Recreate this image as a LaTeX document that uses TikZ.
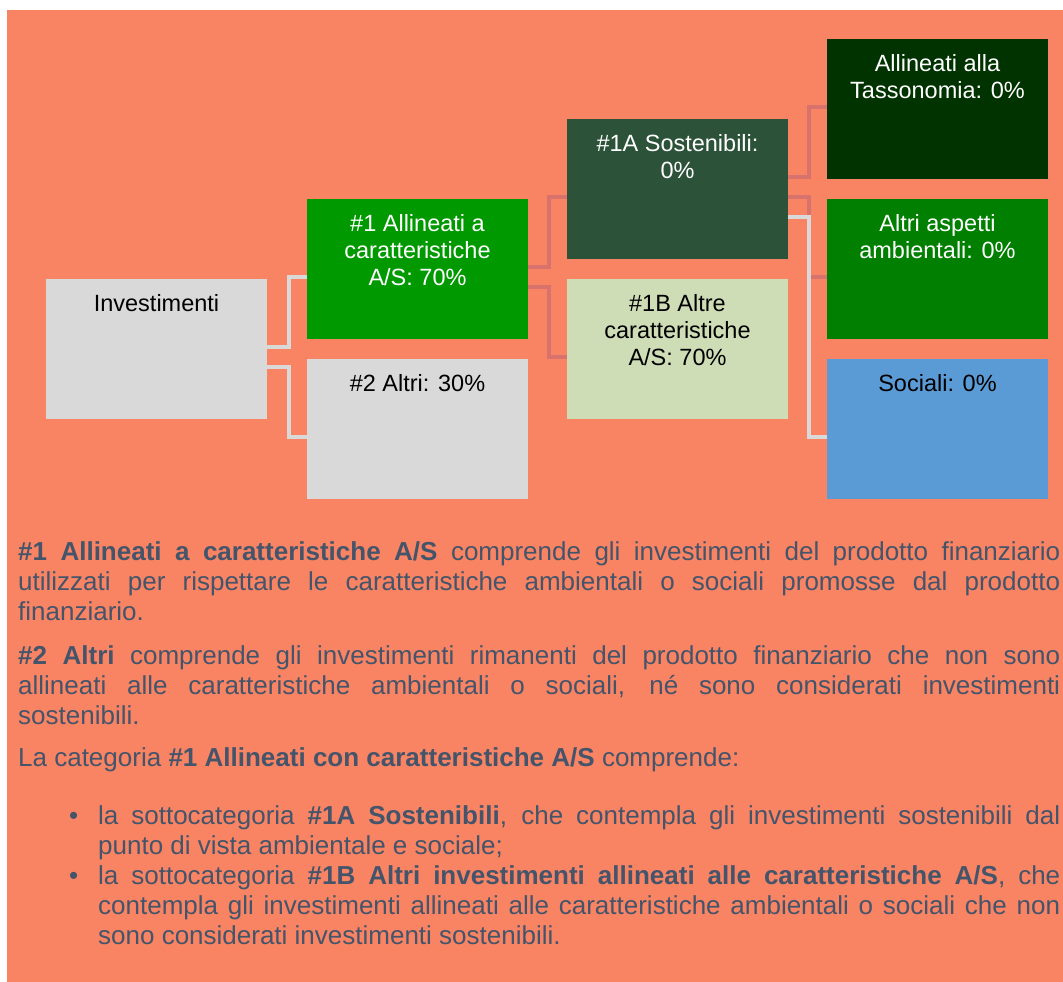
\documentclass[tikz,border=0pt]{standalone}
\usepackage{fontspec}
\setmainfont{Liberation Sans}
\usepackage{xcolor}
\usetikzlibrary{arrows,shapes}

\definecolor{salmon}{HTML}{F88464}
\definecolor{boxgray}{HTML}{D9D9D9}
\definecolor{greenA}{HTML}{009900}
\definecolor{greenS}{HTML}{2C5339}
\definecolor{greenB}{HTML}{CFDDB6}
\definecolor{greenT}{HTML}{003300}
\definecolor{greenE}{HTML}{007F00}
\definecolor{blueS}{HTML}{5B9BD5}
\definecolor{linkred}{HTML}{D7726C}
\definecolor{slate}{HTML}{44546A}

\newcommand{\boxtext}[1]{\parbox[c][140pt][t]{215pt}{\centering\rule{0pt}{32.5pt}#1}}
\newcommand{\parafont}{\fontsize{26}{30}\selectfont\tolerance=10000 \hyphenpenalty=10000 }
\newcommand{\paratext}[2]{\parbox[t]{#1}{\parafont #2}}
\newcommand{\bul}{\leavevmode\llap{\textbullet\hspace{20pt}}}

\tikzset{
  box/.style={rectangle, inner sep=0pt, minimum width=221pt, minimum height=140pt,
    font=\fontsize{23.5}{27}\selectfont},
  gline/.style={draw=boxgray, line width=4.5pt},
  rline/.style={draw=linkred, line width=4.5pt},
  para/.style={anchor=base west, inner sep=0pt, text=slate, font=\parafont}
}

\begin{document}
\begin{tikzpicture}[x=1pt,y=-1pt]
        \useasboundingbox (0,0) rectangle (1063,982);
        \fill[white] (0,0) rectangle (1063,982);
        \fill[salmon] (7,10) rectangle (1063,982);
        % boxes
        \node[box, fill=boxgray] (inv) at (156.5,349) {\boxtext{Investimenti}};
        \node[box, fill=greenA, text=white] (a1) at (417.5,269) {\boxtext{\#1 Allineati a\\ caratteristiche\\ A/S: 70\%}};
        \node[box, fill=boxgray] (a2) at (417.5,429) {\boxtext{\#2 Altri: 30\%}};
        \node[box, fill=greenS, text=white] (s1a) at (677.5,189) {\boxtext{\#1A Sostenibili:\\ 0\%}};
        \node[box, fill=greenB] (s1b) at (677.5,349) {\boxtext{\#1B Altre\\ caratteristiche\\ A/S: 70\%}};
        \node[box, fill=greenT, text=white] (tax) at (937.5,109) {\boxtext{Allineati alla\\ Tassonomia: 0\%}};
        \node[box, fill=greenE, text=white] (amb) at (937.5,269) {\boxtext{Altri aspetti\\ ambientali: 0\%}};
        \node[box, fill=blueS] (soc) at (937.5,429) {\boxtext{Sociali: 0\%}};
        % links
        \draw[gline] ([yshift=2pt]inv.east) -- ++(22,0) |- ([yshift=-8pt]a1.west);
        \draw[gline] ([yshift=-18pt]inv.east) -- ++(22,0) |- ([yshift=-8pt]a2.west);
        \draw[rline] ([yshift=2pt]a1.east) -- ++(21,0) |- ([yshift=-8pt]s1a.west);
        \draw[rline] ([yshift=-18pt]a1.east) -- ++(21,0) |- ([yshift=-8pt]s1b.west);
        \draw[rline] ([yshift=12pt]s1a.east) -- ++(21,0) |- ([yshift=2pt]tax.west);
        \draw[rline] ([yshift=-8pt]s1a.east) -- ++(21,0) |- ([yshift=-8pt]amb.west);
        \draw[gline] ([yshift=-28pt]s1a.east) -- ++(21,0) |- ([yshift=-8pt]soc.west);
        % text
        \node[para] (p1) at (18,560) {\paratext{1042pt}{\textbf{\#1 Allineati a caratteristiche A/S} comprende gli investimenti del prodotto finanziario\linebreak utilizzati per rispettare le caratteristiche ambientali o sociali promosse dal prodotto\linebreak finanziario.}};
        \node[para] (p2) at (18,664) {\paratext{1042pt}{\textbf{\#2 Altri} comprende gli investimenti rimanenti del prodotto finanziario che non sono\linebreak allineati alle caratteristiche ambientali o sociali, né sono considerati investimenti\linebreak sostenibili.}};
        \node[para] (p3) at (18,766) {\paratext{1042pt}{La categoria \textbf{\#1 Allineati con caratteristiche A/S} comprende:}};
        \node[para] (b1) at (98,824) {\paratext{962pt}{\bul la sottocategoria \textbf{\#1A Sostenibili}, che contempla gli investimenti sostenibili dal\linebreak punto di vista ambientale e sociale;}};
        \node[para] (b2) at (98,884) {\paratext{962pt}{\bul la sottocategoria \textbf{\#1B Altri investimenti allineati alle caratteristiche A/S}, che\linebreak contempla gli investimenti allineati alle caratteristiche ambientali o sociali che non\linebreak sono considerati investimenti sostenibili.}};
\end{tikzpicture}
\end{document}
